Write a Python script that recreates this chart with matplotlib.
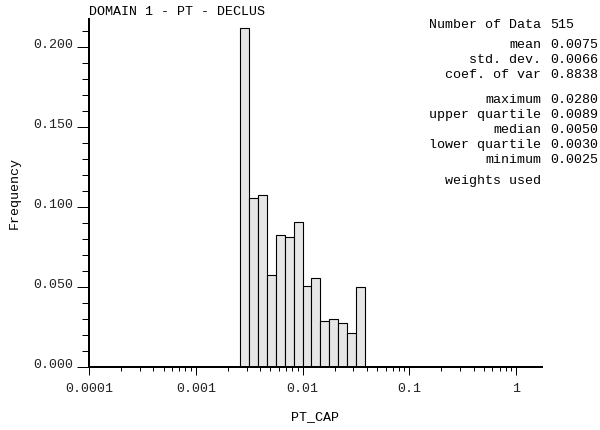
import matplotlib
matplotlib.use('Agg')
import matplotlib.pyplot as plt
from matplotlib.ticker import MultipleLocator, LogLocator, NullFormatter, FixedLocator, FixedFormatter

# histogram classes (log spaced)
bin_edges = [0.00261, 0.00316, 0.00383, 0.00464, 0.00562, 0.00681, 0.00825, 0.0100,
             0.0121, 0.0147, 0.0178, 0.0215, 0.0261, 0.0316, 0.0383]
frequency = [0.2115, 0.1056, 0.1075, 0.0578, 0.0827, 0.0811, 0.0904,
             0.0505, 0.0555, 0.0289, 0.0299, 0.0274, 0.0214, 0.0499]

x_ticks = [0.0001, 0.001, 0.01, 0.1, 1]
x_tick_labels = ['0.0001', '0.001', '0.01', '0.1', '1']
y_ticks = [0.0, 0.05, 0.10, 0.15, 0.20]

stat_labels = ['Number of Data', 'mean', 'std. dev.', 'coef. of var',
               'maximum', 'upper quartile', 'median', 'lower quartile', 'minimum']
stat_values = ['515', '0.0075', '0.0066', '0.8838',
               '0.0280', '0.0089', '0.0050', '0.0030', '0.0025']
stat_rows_px = [25, 45, 60, 75, 100, 115, 130, 145, 160]

font = 'Liberation Mono'
fs = 9.6
W, H = 600, 431
px = 0.72  # pixels -> points at dpi 100

fig = plt.figure(figsize=(6, 4.31), dpi=100)
ax = fig.add_axes([89 / W, 1 - 368.3 / H, (542 - 89) / W, (368.3 - 20) / H])

lefts = bin_edges[:-1]
widths = [b - a for a, b in zip(bin_edges[:-1], bin_edges[1:])]
ax.bar(lefts, frequency, width=widths, align='edge', color='#e6e6e6',
       edgecolor='black', linewidth=0.8, zorder=2)

ax.set_xscale('log')
ax.set_xlim(0.0001, 1.75)
ax.set_ylim(0, 0.2173)

for s in ['top', 'right']:
    ax.spines[s].set_visible(False)
ax.spines['left'].set_linewidth(2 * px)
ax.spines['bottom'].set_linewidth(2 * px)
ax.spines['bottom'].set_zorder(3)

ax.xaxis.set_major_locator(FixedLocator(x_ticks))
ax.xaxis.set_major_formatter(FixedFormatter(x_tick_labels))
ax.xaxis.set_minor_locator(LogLocator(base=10, subs=[2, 3, 4, 5, 6, 7, 8, 9]))
ax.xaxis.set_minor_formatter(NullFormatter())
ax.yaxis.set_major_locator(FixedLocator(y_ticks))
ax.yaxis.set_major_formatter(FixedFormatter(['%.3f' % v for v in y_ticks]))
ax.yaxis.set_minor_locator(MultipleLocator(0.01))

ax.tick_params(axis='x', which='major', length=8 * px, width=1 * px, pad=7 * px, direction='out')
ax.tick_params(axis='x', which='minor', length=4 * px, width=1 * px, direction='out')
ax.tick_params(axis='y', which='major', length=12 * px, width=1 * px, pad=4 * px, direction='out')
ax.tick_params(axis='y', which='minor', length=7 * px, width=1 * px, direction='out')

for lab in ax.get_xticklabels() + ax.get_yticklabels():
    lab.set_family(font)
    lab.set_fontsize(fs)
    lab.set_color('#222222')
for lab in ax.get_yticklabels():
    lab.set_va('baseline')

fig.text(315 / W, 1 - 417 / H, 'PT_CAP', family=font, fontsize=fs, ha='center', va='center')
fig.text(15 / W, 1 - 193 / H, 'Frequency', family=font, fontsize=fs, ha='center', va='center',
         rotation=90)

fig.text(89 / W, 1 - 12 / H, 'DOMAIN 1 - PT - DECLUS', family=font, fontsize=fs,
         ha='left', va='center')

for lab, val, ypx in zip(stat_labels, stat_values, stat_rows_px):
    fig.text(541 / W, 1 - ypx / H, lab, family=font, fontsize=fs, ha='right', va='center')
    fig.text(550 / W, 1 - ypx / H, val, family=font, fontsize=fs, ha='left', va='center')
fig.text(541 / W, 1 - 181 / H, 'weights used', family=font, fontsize=fs, ha='right', va='center')

fig.savefig('out.png', dpi=100)
